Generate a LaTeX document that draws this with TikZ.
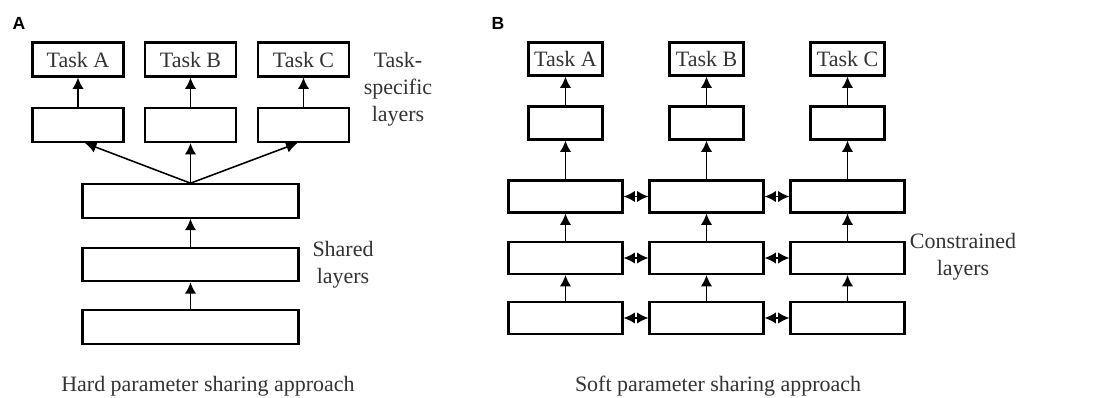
\documentclass[tikz,border=0pt]{standalone}
\usepackage{fontspec}
\setmainfont{Liberation Serif}
\setsansfont{Liberation Sans}
\usetikzlibrary{arrows.meta}

\begin{document}
\begin{tikzpicture}[x=0.02cm, y=-0.02cm,
    font=\fontsize{12.5}{15.5}\selectfont, text=black!80,
    layer/.style={draw=black, line width=1.2pt, inner sep=0pt},
    htask/.style={layer, minimum width=1.82cm, minimum height=0.68cm},
    hshared/.style={layer, minimum width=4.32cm, minimum height=0.67cm},
    stask/.style={layer, minimum width=1.48cm, minimum height=0.66cm},
    sbox/.style={layer, minimum width=2.28cm, minimum height=0.64cm},
    panel/.style={font=\fontsize{10}{12}\sffamily\bfseries, text=black},
    arr/.style={line width=0.9pt, -{Latex[length=6.5pt,width=6.5pt]}},
    darr/.style={line width=0.9pt, {Latex[length=6.5pt,width=6.5pt]}-{Latex[length=6.5pt,width=6.5pt]}}]
  \useasboundingbox (0,0) rectangle (1100,398);

  % A: hard parameter sharing
  \node[panel] (labA) at (19,23) {A};
  \foreach \t/\x in {A/78,B/190.5,C/303.5} {
    \node[htask] (hTask\t) at (\x,59.5) {Task \t};
    \node[htask] (hSpec\t) at (\x,125) {};
    \draw[arr] (hSpec\t) -- (hTask\t);
  }
  \node[hshared] (hShared1) at (190.5,201) {};
  \node[hshared] (hShared2) at (190.5,264.5) {};
  \node[hshared] (hShared3) at (190.5,327) {};
  \draw[arr] (hShared3) -- (hShared2);
  \draw[arr] (hShared2) -- (hShared1);
  \draw[arr] (hShared1.north) -- ([xshift=0.14cm]hSpecA.south);
  \draw[arr] (hShared1.north) -- (hSpecB.south);
  \draw[arr] (hShared1.north) -- ([xshift=-0.12cm]hSpecC.south);

  \node[align=center] (hSpecLab) at (398,89) {Task-\\specific\\layers};
  \node[align=center] (hSharedLab) at (343,265) {Shared\\layers};
  \node (hCaption) at (208,386) {Hard parameter sharing approach};

  % B: soft parameter sharing
  \node[panel] (labB) at (498,23) {B};
  \foreach \t/\x in {A/565.5,B/706.5,C/847.5} {
    \node[stask] (sTask\t) at (\x,59) {Task \t};
    \node[stask] (sSpec\t) at (\x,123) {};
    \node[sbox] (sL1\t) at (\x,196.5) {};
    \node[sbox] (sL2\t) at (\x,258) {};
    \node[sbox] (sL3\t) at (\x,318) {};
    \draw[arr] (sSpec\t) -- (sTask\t);
    \draw[arr] (sL1\t) -- (sSpec\t);
    \draw[arr] (sL2\t) -- (sL1\t);
    \draw[arr] (sL3\t) -- (sL2\t);
  }
  \foreach \r in {1,2,3} {
    \draw[darr] (sL\r A) -- (sL\r B);
    \draw[darr] (sL\r B) -- (sL\r C);
  }

  \node[align=center] (sConLab) at (963,257) {Constrained\\layers};
  \node (sCaption) at (718,386) {Soft parameter sharing approach};
\end{tikzpicture}
\end{document}
